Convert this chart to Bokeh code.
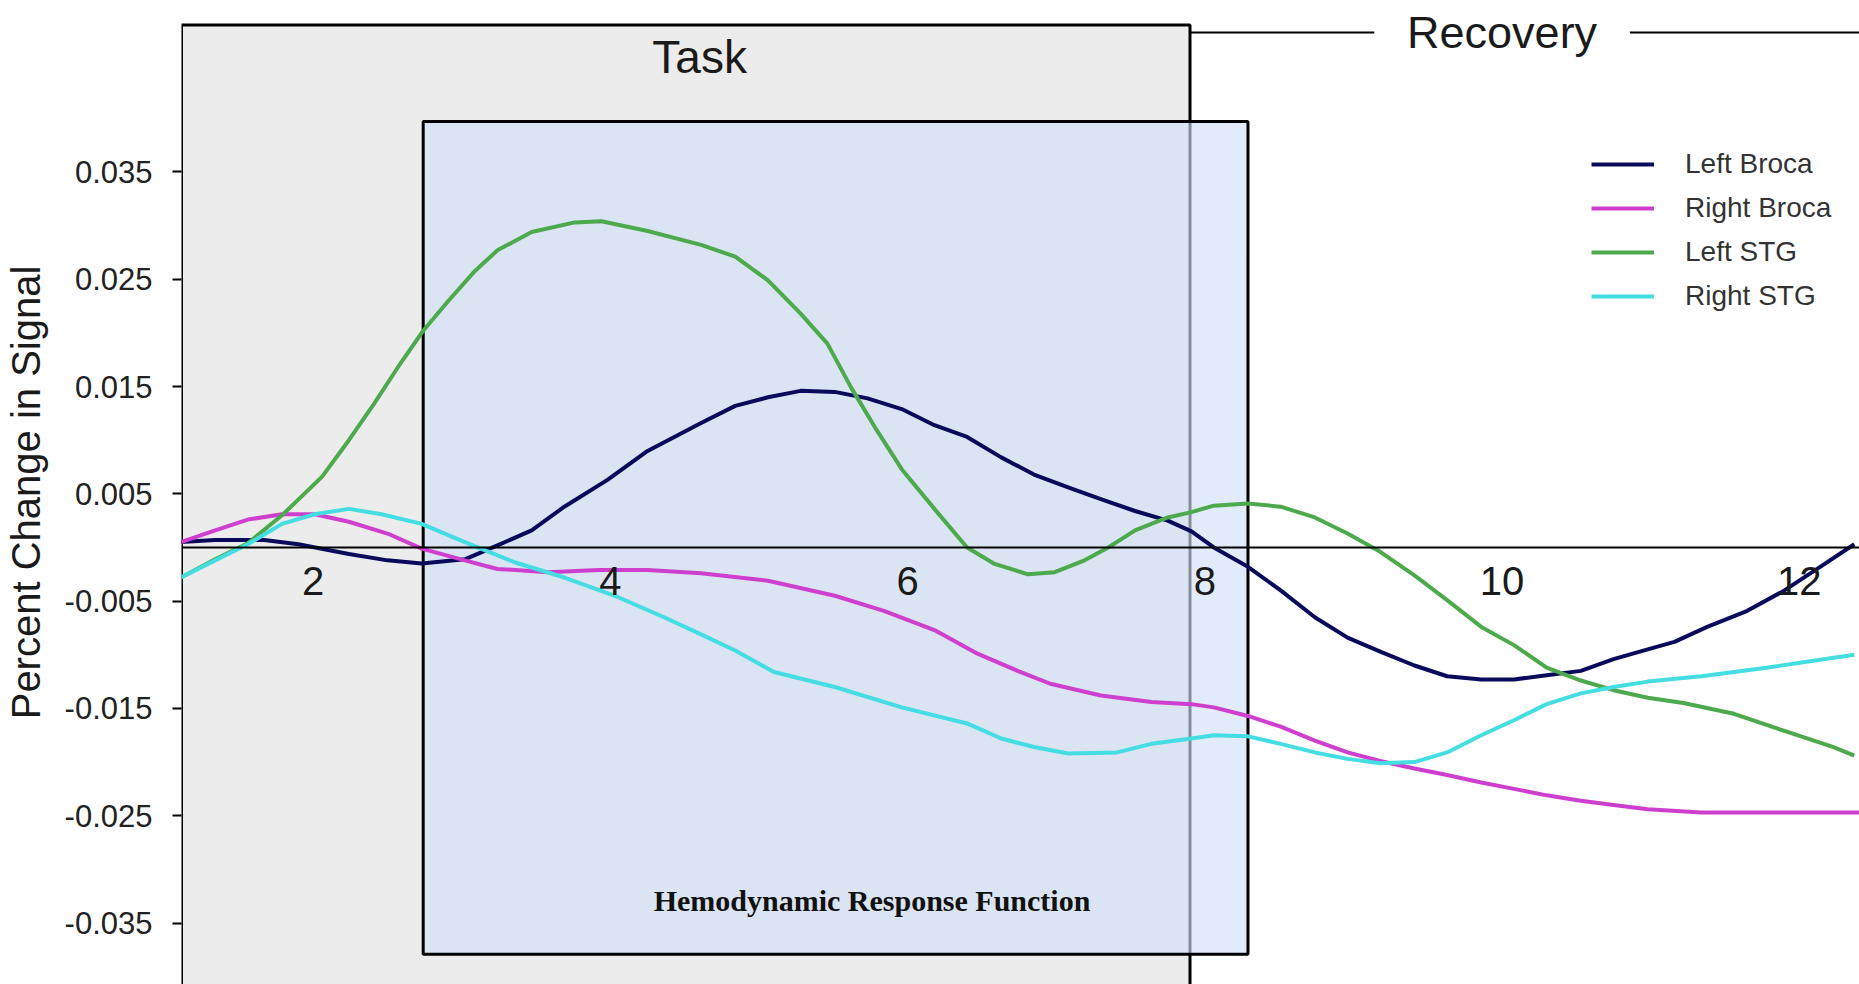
from bokeh.plotting import figure
from bokeh.models import Range1d, FixedTicker, BoxAnnotation, Label, Legend, LegendItem, PrintfTickFormatter
from bokeh.embed import file_html
from bokeh.resources import INLINE

# ---------------- data ----------------
series_names = ["Left Broca", "Right Broca", "Left STG", "Right STG"]
series_colors = ["#0a0a5c", "#cf3fcf", "#4caa4c", "#44dde2"]

left_broca_t = [1.11, 1.34, 1.67, 1.90, 2.24, 2.50, 2.73, 3.02, 3.24, 3.47, 3.69, 3.98, 4.25, 4.61,
                4.84, 5.06, 5.28, 5.51, 5.73, 5.96, 6.18, 6.40, 6.63, 6.85, 7.08, 7.30, 7.53, 7.75,
                7.91, 8.06, 8.29, 8.51, 8.74, 8.96, 9.18, 9.41, 9.63, 9.86, 10.08, 10.30, 10.53,
                10.75, 10.98, 11.16, 11.38, 11.65, 11.90, 12.12, 12.37]
left_broca_v = [0.0005, 0.0007, 0.0007, 0.0003, -0.0006, -0.0012, -0.0015, -0.0011, 0.0002, 0.0016,
                0.0038, 0.0063, 0.0090, 0.0116, 0.0132, 0.0140, 0.0146, 0.0145, 0.0139, 0.0129,
                0.0114, 0.0103, 0.0084, 0.0068, 0.0056, 0.0045, 0.0034, 0.0025, 0.0015, 0.0000,
                -0.0018, -0.0040, -0.0065, -0.0084, -0.0097, -0.0110, -0.0120, -0.0123, -0.0123,
                -0.0119, -0.0115, -0.0104, -0.0095, -0.0088, -0.0074, -0.0059, -0.0040, -0.0020, 0.0003]

right_broca_t = [1.11, 1.34, 1.56, 1.79, 2.01, 2.24, 2.50, 2.73, 3.02, 3.24, 3.58, 3.92, 4.25, 4.61,
                 5.06, 5.51, 5.84, 6.18, 6.47, 6.74, 6.96, 7.30, 7.64, 7.91, 8.06, 8.29, 8.51, 8.74,
                 8.96, 9.18, 9.41, 9.63, 9.86, 10.08, 10.30, 10.53, 10.75, 10.98, 11.34, 12.41]
right_broca_v = [0.0005, 0.0016, 0.0026, 0.0031, 0.0031, 0.0024, 0.0013, -0.0001, -0.0012, -0.0020,
                 -0.0023, -0.0021, -0.0021, -0.0024, -0.0031, -0.0045, -0.0059, -0.0077, -0.0099,
                 -0.0115, -0.0127, -0.0138, -0.0144, -0.0146, -0.0149, -0.0157, -0.0167, -0.0180,
                 -0.0191, -0.0199, -0.0206, -0.0212, -0.0219, -0.0225, -0.0231, -0.0236, -0.0240,
                 -0.0244, -0.0247, -0.0247]

left_stg_t = [1.11, 1.34, 1.56, 1.79, 2.06, 2.24, 2.41, 2.57, 2.74, 2.91, 3.09, 3.24, 3.47, 3.76,
              3.94, 4.25, 4.61, 4.84, 5.06, 5.28, 5.46, 5.62, 5.78, 5.96, 6.18, 6.40, 6.58, 6.81,
              6.99, 7.19, 7.35, 7.53, 7.75, 7.91, 8.06, 8.29, 8.51, 8.74, 8.96, 9.18, 9.41, 9.63,
              9.86, 10.08, 10.30, 10.53, 10.75, 10.98, 11.22, 11.56, 11.90, 12.23, 12.37]
left_stg_v = [-0.0028, -0.0011, 0.0004, 0.0030, 0.0066, 0.0100, 0.0134, 0.0168, 0.0202, 0.0230,
              0.0258, 0.0277, 0.0294, 0.0303, 0.0304, 0.0295, 0.0282, 0.0271, 0.0249, 0.0218,
              0.0190, 0.0149, 0.0112, 0.0073, 0.0036, 0.0000, -0.0015, -0.0025, -0.0023, -0.0012,
              0.0000, 0.0016, 0.0028, 0.0033, 0.0039, 0.0041, 0.0038, 0.0028, 0.0013, -0.0004,
              -0.0026, -0.0049, -0.0074, -0.0091, -0.0112, -0.0124, -0.0133, -0.0140, -0.0145,
              -0.0155, -0.0171, -0.0186, -0.0194]

right_stg_t = [1.11, 1.34, 1.56, 1.79, 2.01, 2.24, 2.46, 2.73, 3.02, 3.36, 3.69, 4.03, 4.36, 4.61,
               4.84, 5.10, 5.51, 5.96, 6.40, 6.63, 6.85, 7.08, 7.41, 7.64, 7.91, 8.06, 8.29, 8.51,
               8.74, 8.96, 9.18, 9.41, 9.63, 9.86, 10.08, 10.30, 10.53, 10.75, 10.98, 11.34, 11.78, 12.37]
right_stg_v = [-0.0028, -0.0012, 0.0003, 0.0022, 0.0031, 0.0036, 0.0031, 0.0022, 0.0005, -0.0014,
               -0.0028, -0.0045, -0.0065, -0.0081, -0.0096, -0.0116, -0.0130, -0.0149, -0.0164,
               -0.0178, -0.0186, -0.0192, -0.0191, -0.0183, -0.0178, -0.0175, -0.0176, -0.0183,
               -0.0191, -0.0197, -0.0201, -0.0200, -0.0191, -0.0175, -0.0161, -0.0146, -0.0136,
               -0.0130, -0.0125, -0.0120, -0.0112, -0.0100]

x_ticks = [2, 4, 6, 8, 10, 12]
y_ticks = [-0.035, -0.025, -0.015, -0.005, 0.005, 0.015, 0.025, 0.035]

# annotation regions (time, percent change)
X_START, X_END = 1.1137, 12.405
TASK_RIGHT, TASK_TOP = 7.90, 0.0487
HRF_LEFT, HRF_RIGHT, HRF_TOP, HRF_BOTTOM = 2.74, 8.29, 0.0397, -0.0379
RECOVERY_Y = 0.0480

FONT = "Liberation Sans"

p = figure(width=1859, height=984, output_backend="svg", toolbar_location=None,
           x_range=Range1d(X_START, X_END), y_range=Range1d(-0.04073, 0.05098),
           min_border_left=180, min_border_right=0, min_border_top=0, min_border_bottom=0)
p.outline_line_color = None
p.xgrid.visible = False
p.ygrid.visible = False
p.background_fill_color = "white"

# boxes
task_box = BoxAnnotation(left=X_START, right=TASK_RIGHT, top=TASK_TOP, bottom=-0.08,
                         fill_color="#ececec", fill_alpha=1.0, line_color="black", line_alpha=1.0,
                         line_width=3, level="underlay")
hrf_box = BoxAnnotation(left=HRF_LEFT, right=HRF_RIGHT, top=HRF_TOP, bottom=HRF_BOTTOM,
                        fill_color="#cfdff7", fill_alpha=0.63, line_color="black", line_alpha=1.0,
                        line_width=3, level="underlay")
p.add_layout(task_box)
p.add_layout(hrf_box)

# recovery lines
p.segment(x0=[TASK_RIGHT, 10.86], y0=[RECOVERY_Y, RECOVERY_Y], x1=[9.14, 12.5], y1=[RECOVERY_Y, RECOVERY_Y],
          line_color="black", line_width=2)

# series
all_t = [left_broca_t, right_broca_t, left_stg_t, right_stg_t]
all_v = [left_broca_v, right_broca_v, left_stg_v, right_stg_v]
renderers = []
for t, v, c in zip(all_t, all_v, series_colors):
    r = p.line(t, v, line_color=c, line_width=4, line_join="round")
    renderers.append(r)

# axes
p.xaxis.fixed_location = 0
p.xaxis.ticker = FixedTicker(ticks=x_ticks)
p.xaxis.minor_tick_line_color = None
p.xaxis.major_tick_in = 0
p.xaxis.major_tick_out = 0
p.xaxis.axis_line_color = "black"
p.xaxis.axis_line_width = 2
p.xaxis.major_label_standoff = 20
p.xaxis.major_label_text_font = FONT
p.xaxis.major_label_text_font_size = "40px"
p.xaxis.major_label_text_color = "#1a1a1a"

p.yaxis.ticker = FixedTicker(ticks=y_ticks)
p.yaxis.formatter = PrintfTickFormatter(format="%.3f")
p.yaxis.minor_tick_line_color = None
p.yaxis.major_tick_in = 0
p.yaxis.major_tick_out = 9
p.yaxis.major_tick_line_width = 2
p.yaxis.major_tick_line_color = "black"
p.yaxis.axis_line_color = None
p.yaxis.major_label_standoff = 20
p.yaxis.major_label_text_font = FONT
p.yaxis.major_label_text_font_size = "31px"
p.yaxis.major_label_text_color = "#222222"
p.yaxis.axis_label = "Percent Change in Signal"
p.yaxis.axis_label_text_font = FONT
p.yaxis.axis_label_text_font_size = "40px"
p.yaxis.axis_label_text_font_style = "normal"
p.yaxis.axis_label_text_color = "#1a1a1a"
p.yaxis.axis_label_standoff = 14

# texts
p.add_layout(Label(x=4.6, y=0.0457, text="Task", text_font=FONT, text_font_size="46px",
                   text_align="center", text_baseline="middle", text_color="#1a1a1a"))
p.add_layout(Label(x=10.0, y=RECOVERY_Y, text="Recovery", text_font=FONT, text_font_size="45px",
                   text_align="center", text_baseline="middle", text_color="#1a1a1a"))
p.add_layout(Label(x=5.76, y=-0.0329, text="Hemodynamic Response Function", text_font="Liberation Serif",
                   text_font_size="30px", text_font_style="bold",
                   text_align="center", text_baseline="middle", text_color="#111111"))

legend = Legend(items=[LegendItem(label=n, renderers=[r]) for n, r in zip(series_names, renderers)],
                location=(1410, 668))
legend.label_text_font = FONT
legend.label_text_font_size = "28px"
legend.label_text_color = "#333333"
legend.glyph_width = 63
legend.glyph_height = 40
legend.label_height = 40
legend.spacing = 4
legend.label_standoff = 31
legend.padding = 10
legend.margin = 0
legend.border_line_color = None
legend.background_fill_alpha = 0
p.add_layout(legend)

open("out.html", "w").write(file_html(p, INLINE))
